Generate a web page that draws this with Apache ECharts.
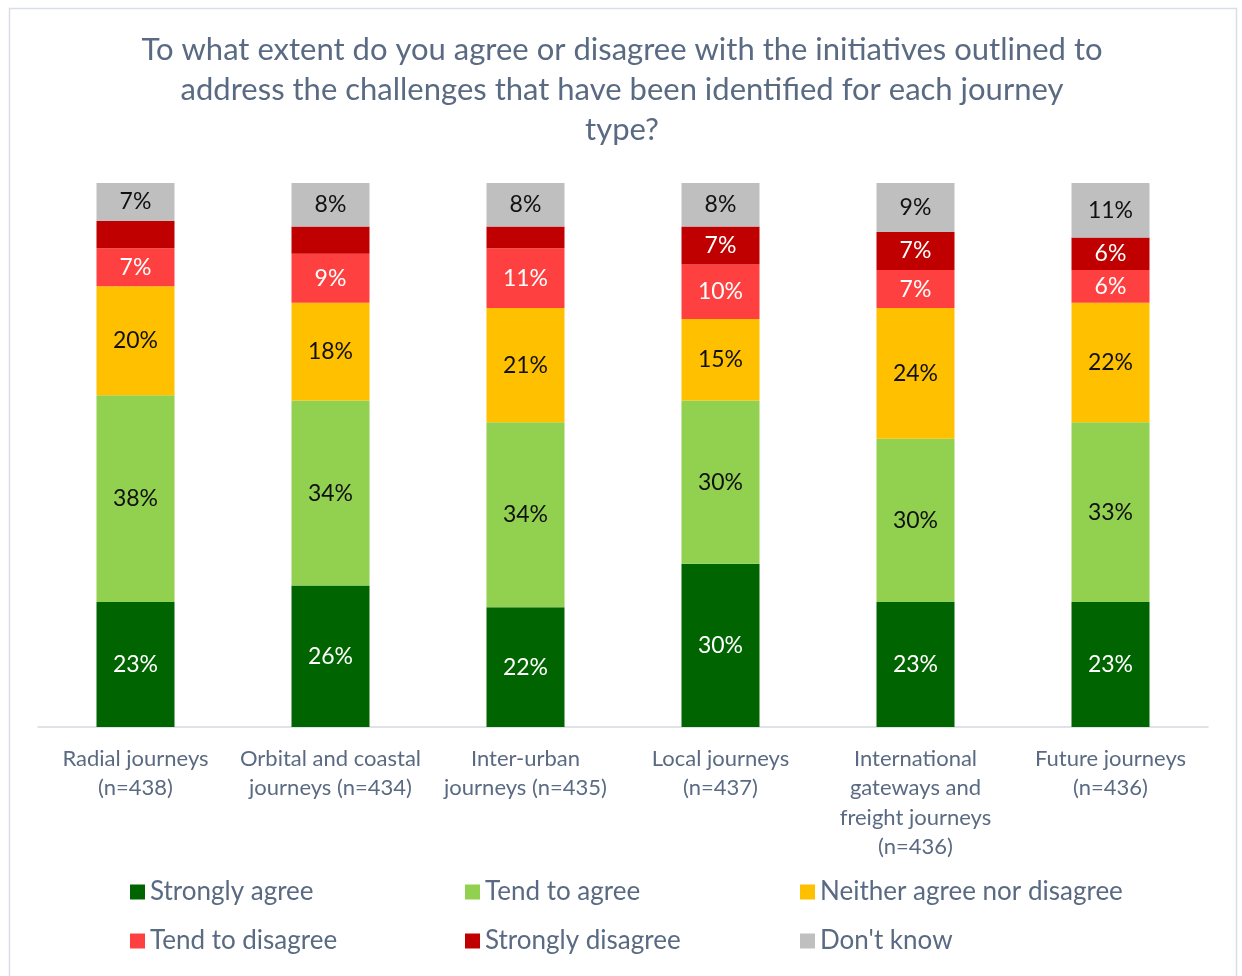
<!DOCTYPE html>
<html>
<head>
<meta charset="utf-8">
<script src="https://cdn.jsdelivr.net/npm/echarts@6/dist/echarts.min.js"></script>
<style>
  html, body { margin: 0; padding: 0; background: #ffffff; }
  #chart { width: 1242px; height: 976px; }
</style>
</head>
<body>
<div id="chart"></div>
<script>
// Journey types (x-axis categories)
const categories = [
  'Radial journeys\n(n=438)',
  'Orbital and coastal\njourneys (n=434)',
  'Inter-urban\njourneys (n=435)',
  'Local journeys\n(n=437)',
  'International\ngateways and\nfreight journeys\n(n=436)',
  'Future journeys\n(n=436)'
];

// Percent of respondents per answer, one value per journey type
const stronglyAgree    = [23, 26, 22, 30, 23, 23];
const tendToAgree      = [38, 34, 34, 30, 30, 33];
const neither          = [20, 18, 21, 15, 24, 22];
const tendToDisagree   = [7, 9, 11, 10, 7, 6];
const stronglyDisagree = [5, 5, 4, 7, 7, 6];
const dontKnow         = [7, 8, 8, 8, 9, 11];

// Segments too thin to carry a label
const unlabelledDisagree = [0, 1, 2];

const chartTitle = 'To what extent do you agree or disagree with the initiatives outlined to\naddress the challenges that have been identified for each journey\ntype?';

const textColor = '#5A6A82';
const fontFamily = 'Lato, "Open Sans", sans-serif';

function makeSeries(name, values, color, labelColor, hidden) {
  return {
    name: name,
    type: 'bar',
    stack: 'total',
    barWidth: '40%',
    itemStyle: { color: color },
    label: {
      show: true,
      position: 'inside',
      color: labelColor,
      fontSize: 23,
      fontFamily: fontFamily,
      formatter: p => p.value + '%'
    },
    data: values.map((v, i) => (hidden && hidden.includes(i))
      ? { value: v, label: { show: false } }
      : v)
  };
}

const chart = echarts.init(document.getElementById('chart'), null, { renderer: 'canvas' });

const legendBase = {
  orient: 'vertical',
  itemWidth: 15,
  itemHeight: 15,
  itemGap: 23,
  icon: 'rect',
  top: 874,
  textStyle: { color: textColor, fontSize: 26, fontFamily: fontFamily, padding: [0, 0, 0, 0] }
};

chart.setOption({
  animation: false,
  backgroundColor: '#ffffff',
  graphic: [{
    type: 'rect',
    shape: { x: 9.5, y: 8.5, width: 1227, height: 990 },
    style: { fill: 'none', stroke: '#D9DDE5', lineWidth: 1.5 },
    silent: true
  }, {
    type: 'text',
    x: 622,
    y: 30,
    silent: true,
    style: {
      text: chartTitle,
      align: 'center',
      verticalAlign: 'top',
      fill: textColor,
      fontSize: 31,
      lineHeight: 40,
      fontFamily: fontFamily
    }
  }],
  legend: [
    Object.assign({}, legendBase, { left: 125, data: ['Strongly agree', 'Tend to disagree'] }),
    Object.assign({}, legendBase, { left: 460, data: ['Tend to agree', 'Strongly disagree'] }),
    Object.assign({}, legendBase, { left: 795, data: ['Neither agree nor disagree', "Don't know"] })
  ],
  grid: { left: 38, right: 34, top: 183, bottom: 249 },
  xAxis: {
    type: 'category',
    data: categories,
    axisTick: { show: false },
    axisLine: { lineStyle: { color: '#D5D9E0', width: 1.5 } },
    axisLabel: {
      interval: 0,
      color: textColor,
      fontSize: 22,
      lineHeight: 29.5,
      margin: 17,
      fontFamily: fontFamily
    }
  },
  yAxis: {
    type: 'value',
    min: 0,
    max: 100,
    show: false,
    splitLine: { show: false }
  },
  series: [
    makeSeries('Strongly agree', stronglyAgree, '#006400', '#ffffff'),
    makeSeries('Tend to agree', tendToAgree, '#92D050', '#111111'),
    makeSeries('Neither agree nor disagree', neither, '#FFC000', '#111111'),
    makeSeries('Tend to disagree', tendToDisagree, '#FF4040', '#ffffff'),
    makeSeries('Strongly disagree', stronglyDisagree, '#C00000', '#ffffff', unlabelledDisagree),
    makeSeries("Don't know", dontKnow, '#BFBFBF', '#111111')
  ]
});
</script>
</body>
</html>
